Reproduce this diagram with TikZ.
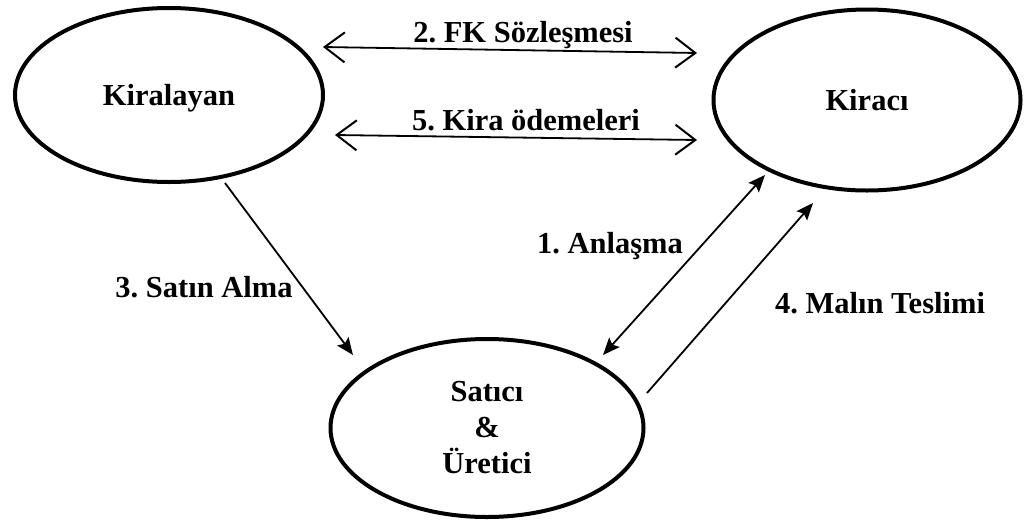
\documentclass[tikz,border=0pt]{standalone}
\usepackage{fontspec}
\setmainfont{Liberation Serif}[BoldFont={Liberation Serif Bold}]
\frenchspacing
\usetikzlibrary{shapes.geometric,arrows.meta}
\begin{document}
\begin{tikzpicture}[x=1pt,y=-1pt,
  party/.style={ellipse, draw, line width=4pt, inner sep=0pt,
    font=\fontsize{30.5}{36}\selectfont\bfseries, align=center},
  lbl/.style={font=\fontsize{30.5}{36}\selectfont\bfseries, inner sep=0pt, anchor=base},
  flow/.style={line width=1.8pt},
  barbboth/.style={flow, {Straight Barb[length=20pt,width=30pt,line width=2pt]}-{Straight Barb[length=20pt,width=30pt,line width=2pt]}},
  solidboth/.style={flow, {Stealth[length=17pt,width=14pt,inset=3pt]}-{Stealth[length=17pt,width=14pt,inset=3pt]}},
  solidone/.style={flow, -{Stealth[length=17pt,width=14pt,inset=3pt]}}
]
\useasboundingbox (0,0) rectangle (1024,525);

\node[party, minimum width=308pt, minimum height=174pt] (kl) at (169,95) {\raisebox{-10pt}[0pt][0pt]{Kiralayan}};
\node[party, minimum width=307pt, minimum height=181pt] (kc) at (867,100) {Kiracı};
\node[party, minimum width=313pt, minimum height=178pt] (su) at (487,428) {Satıcı\\\&\\Üretici};

\coordinate (a2l) at (323,47);
\coordinate (a2r) at (697,53);
\coordinate (a5l) at (335,135);
\coordinate (a5r) at (697,140);
\coordinate (a1s) at (603,355);
\coordinate (a1e) at (765,175);
\coordinate (a4s) at (647,393);
\coordinate (a4e) at (813,203);
\coordinate (a3s) at (225,183);
\coordinate (a3e) at (353,355);

\draw[barbboth] (a2l) -- (a2r);
\draw[barbboth] (a5l) -- (a5r);
\draw[solidboth] (a1s) -- (a1e);
\draw[solidone] (a4s) -- (a4e);
\draw[solidone] (a3s) -- (a3e);

\node[lbl] (l2) at (523,42) {2. FK Sözleşmesi};
\node[lbl] (l5) at (526,130) {5. Kira ödemeleri};
\node[lbl] (l1) at (610,253) {1. Anlaşma};
\node[lbl] (l4) at (880,313) {4. Malın Teslimi};
\node[lbl] (l3) at (204,297) {3. Satın Alma};
\end{tikzpicture}
\end{document}
